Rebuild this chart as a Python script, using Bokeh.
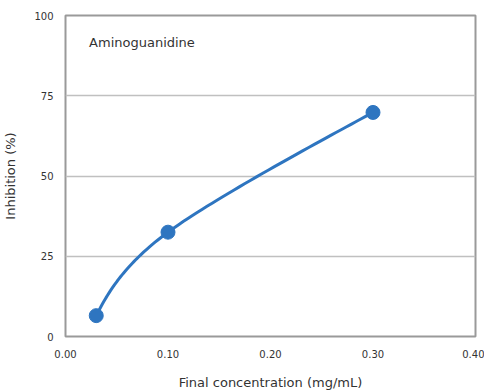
from bokeh.plotting import figure
from bokeh.models import Range1d, FixedTicker, NumeralTickFormatter, Label
from bokeh.embed import file_html
from bokeh.resources import INLINE

# Data
conc = [0.03, 0.10, 0.30]
inhibition = [6.5, 32.5, 69.8]
x_ticks = [0.0, 0.1, 0.2, 0.3, 0.4]
y_ticks = [0, 25, 50, 75, 100]
series_name = "Aminoguanidine"
x_title = "Final concentration (mg/mL)"
y_title = "Inhibition (%)"

FONT = "DejaVu Sans"
TXT = "#333333"
BLUE = "#2e75c0"


def smooth(xs, ys, n=40):
    # cubic Bezier smoothing through the points (spreadsheet-style smoothed line)
    pts = list(zip(xs, ys))
    m = len(pts)
    segs = []
    for i in range(m - 1):
        p0 = pts[i - 1] if i > 0 else None
        p1 = pts[i]
        p2 = pts[i + 1]
        p3 = pts[i + 2] if i + 2 < m else None
        c1 = (p1[0] + (p2[0] - p0[0]) / 6, p1[1] + (p2[1] - p0[1]) / 6) if p0 else None
        c2 = (p2[0] - (p3[0] - p1[0]) / 6, p2[1] - (p3[1] - p1[1]) / 6) if p3 else None
        if c1 is None and c2 is not None:
            c1 = (p1[0] + (c2[0] - p1[0]) * 0.4, p1[1] + (c2[1] - p1[1]) * 0.4)
        if c2 is None and c1 is not None:
            c2 = (p2[0] + (c1[0] - p2[0]) * 0.33, p2[1] + (c1[1] - p2[1]) * 0.33)
        if c1 is None and c2 is None:
            c1, c2 = p1, p2
        segs.append((p1, c1, c2, p2))
    ox, oy = [], []
    for p1, c1, c2, p2 in segs:
        for k in range(n + 1):
            t = k / n
            a = (1 - t) ** 3
            b = 3 * (1 - t) ** 2 * t
            c = 3 * (1 - t) * t ** 2
            d = t ** 3
            ox.append(a * p1[0] + b * c1[0] + c * c2[0] + d * p2[0])
            oy.append(a * p1[1] + b * c1[1] + c * c2[1] + d * p2[1])
    return ox, oy


p = figure(width=484, height=392, output_backend="svg", toolbar_location=None,
           x_range=Range1d(0, 0.4), y_range=Range1d(0, 100),
           min_border_left=64, min_border_right=9, min_border_top=15,
           min_border_bottom=55)

p.background_fill_color = "white"
p.border_fill_color = "white"
p.outline_line_color = "#9a9a9a"
p.outline_line_width = 2

p.xgrid.grid_line_color = None
p.ygrid.grid_line_color = "#c0c0c0"
p.ygrid.grid_line_width = 1.5
p.ygrid.ticker = FixedTicker(ticks=y_ticks)

p.xaxis.ticker = FixedTicker(ticks=x_ticks)
p.xaxis.formatter = NumeralTickFormatter(format="0.00")
p.yaxis.ticker = FixedTicker(ticks=y_ticks)

for ax in (p.xaxis, p.yaxis):
    ax.axis_line_color = None
    ax.major_tick_line_color = None
    ax.minor_tick_line_color = None
    ax.major_tick_out = 0
    ax.major_tick_in = 0
    ax.major_label_text_font = FONT
    ax.major_label_text_font_size = "10px"
    ax.major_label_text_color = TXT
    ax.axis_label_text_font = FONT
    ax.axis_label_text_font_size = "13px"
    ax.axis_label_text_font_style = "normal"
    ax.axis_label_text_color = TXT

p.xaxis.axis_label = x_title
p.yaxis.axis_label = y_title
p.xaxis.major_label_standoff = 13
p.xaxis.axis_label_standoff = 14
p.yaxis.major_label_standoff = 12
p.yaxis.axis_label_standoff = 13

sx, sy = smooth(conc, inhibition)
p.line(sx, sy, line_color=BLUE, line_width=3)
p.scatter(conc, inhibition, size=14, fill_color=BLUE, line_color=BLUE)

p.add_layout(Label(x=0.023, y=91.5, text=series_name, text_font=FONT,
                   text_font_size="13px", text_color=TXT,
                   text_baseline="middle"))

open("out.html", "w").write(file_html(p, INLINE))
